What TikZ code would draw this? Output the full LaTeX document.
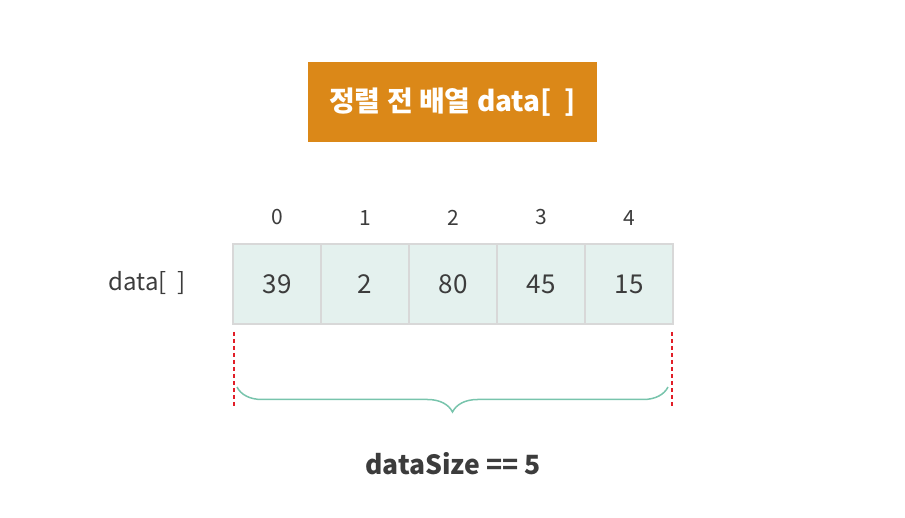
\documentclass[tikz,border=0pt]{standalone}
\usepackage{fontspec}
\setmainfont{Noto Sans CJK KR}
\usetikzlibrary{positioning,decorations.pathreplacing}
\definecolor{titleorange}{RGB}{219,136,24}
\definecolor{cellfill}{RGB}{228,241,238}
\definecolor{cellline}{RGB}{216,216,216}
\definecolor{bracegreen}{RGB}{120,196,172}
\definecolor{markred}{RGB}{225,30,40}
\definecolor{textgray}{RGB}{60,60,60}
\begin{document}
\begin{tikzpicture}[x=1pt,y=-1pt,
    titlebox/.style={fill=titleorange, text=white, minimum width=289pt, minimum height=80pt, inner sep=0pt, font=\fontsize{28}{32}\selectfont\bfseries},
    cellbox/.style={draw=cellline, fill=cellfill, line width=2.5pt, minimum width=88pt, minimum height=80pt, inner sep=0pt, text=textgray, font=\fontsize{26}{30}\selectfont},
    idxlabel/.style={text=textgray, font=\fontsize{21}{24}\selectfont},
    sizelabel/.style={text=textgray, font=\fontsize{26.5}{30}\selectfont\bfseries}]
        \useasboundingbox (0,0) rectangle (905,518);

        \node[titlebox] (title) at (452.5,102) {정렬 전 배열 data[\ \ ]};

        \node[cellbox] (c0) at (277,284) {39};
        \node[cellbox] (c1) at (365,284) {2};
        \node[cellbox] (c2) at (453,284) {80};
        \node[cellbox] (c3) at (541,284) {45};
        \node[cellbox] (c4) at (629,284) {15};

        \node[idxlabel, above=14pt of c0] (i0) {0};
        \node[idxlabel, above=14pt of c1] (i1) {1};
        \node[idxlabel, above=14pt of c2] (i2) {2};
        \node[idxlabel, above=14pt of c3] (i3) {3};
        \node[idxlabel, above=14pt of c4] (i4) {4};

        \node[idxlabel, font=\fontsize{24}{28}\selectfont] (name) at (147,283) {data[\ \ ]};

        \coordinate (lt) at (234,332);
        \coordinate (lb) at (234,408);
        \coordinate (rt) at (672,332);
        \coordinate (rb) at (672,408);
        \draw[markred, line width=1.3pt, dash pattern=on 4pt off 3pt] (lt) -- (lb);
        \draw[markred, line width=1.3pt, dash pattern=on 4pt off 3pt] (rt) -- (rb);

        \coordinate (bl) at (237,387);
        \coordinate (br) at (668,387);
        \draw[bracegreen, line width=1.5pt, decorate, decoration={brace, mirror, amplitude=25pt}] (bl) -- (br);

        \node[sizelabel] (size) at (453,464) {dataSize == 5};
\end{tikzpicture}
\end{document}
